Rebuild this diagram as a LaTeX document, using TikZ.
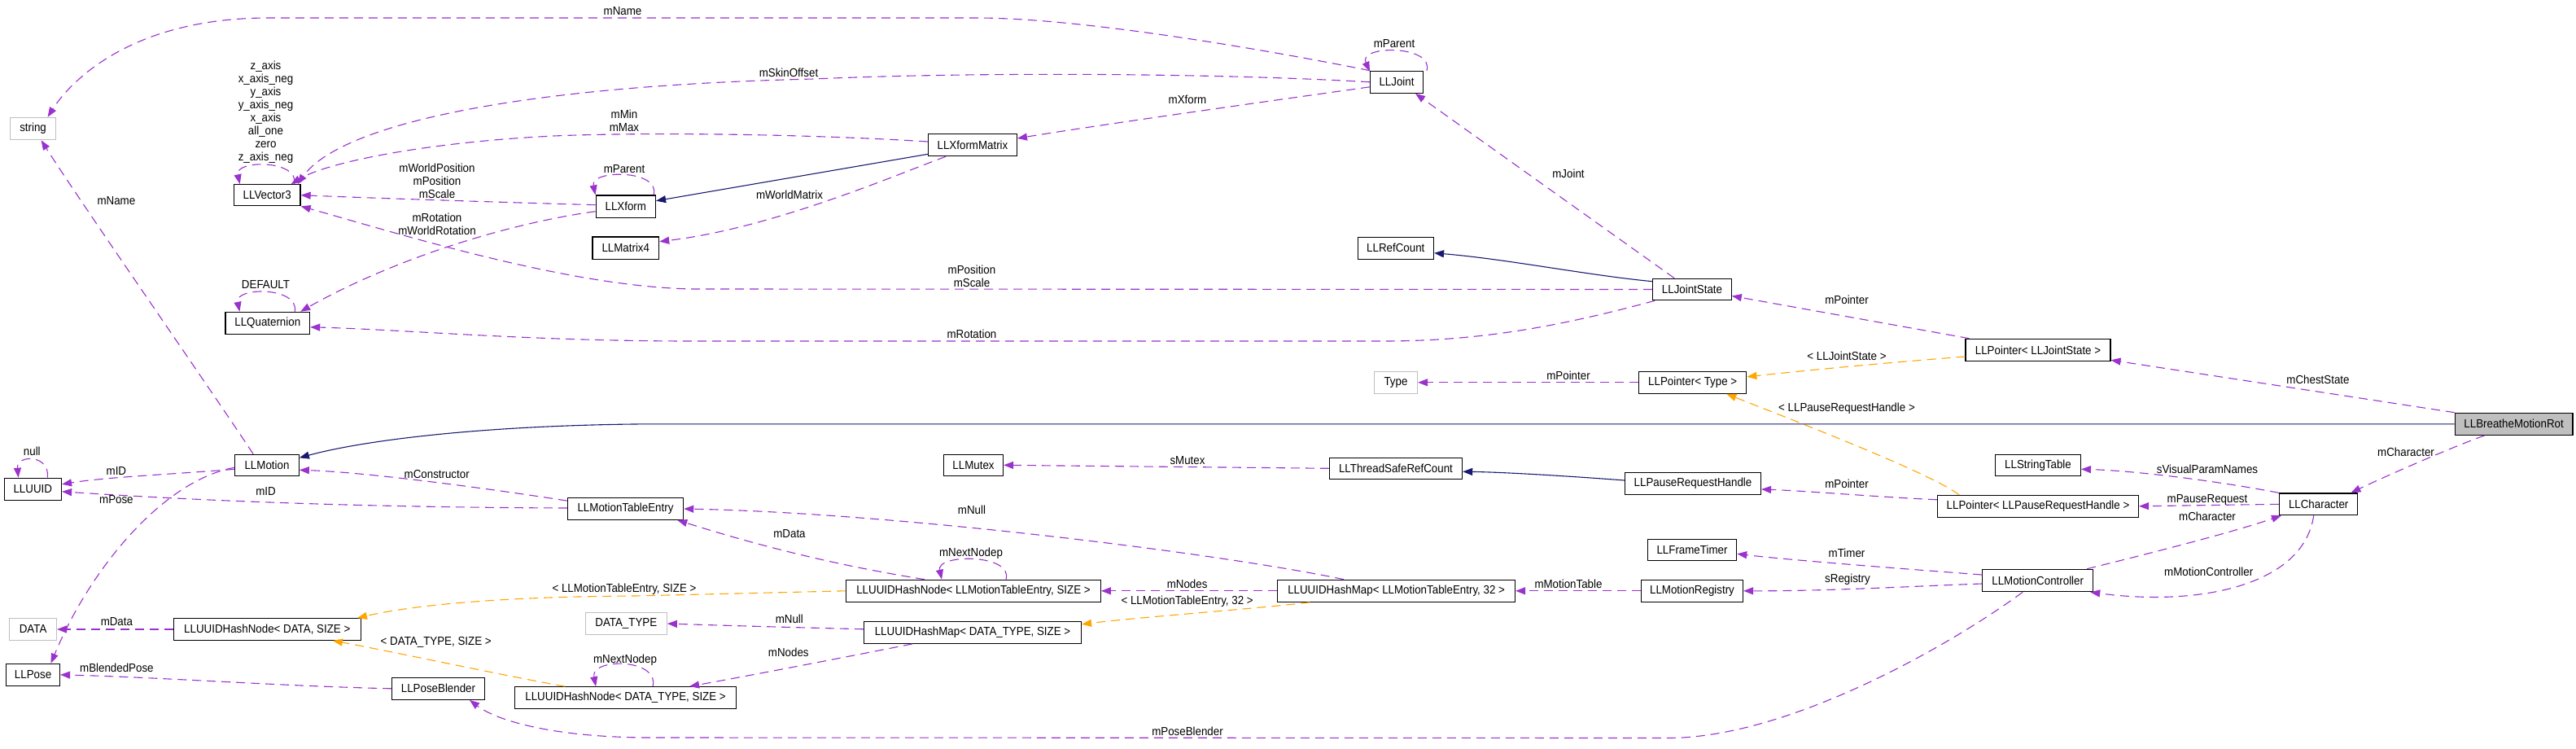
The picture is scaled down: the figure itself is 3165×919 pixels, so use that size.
\documentclass[tikz,border=0pt]{standalone}
\usepackage{fontspec}
\newfontfamily\dfont{Liberation Sans}[FakeStretch=0.92]
\usetikzlibrary{arrows.meta,calc}
\definecolor{usec}{HTML}{9A32CD}
\definecolor{inhc}{HTML}{191970}
\definecolor{tplc}{HTML}{FFA500}
\definecolor{extc}{HTML}{BFBFBF}
\tikzset{
  cls/.style={draw=black, line width=1.2pt, inner sep=0pt, font=\dfont\fontsize{14.5}{16}\selectfont},
  extcls/.style={cls, draw=extc},
  lbl/.style={inner sep=0pt, align=center, font=\dfont\fontsize{14.5}{16}\selectfont},
  use/.style={draw=usec, line width=1.1pt, dash pattern=on 11pt off 7pt, -{Triangle[length=12pt,width=9pt]}},
  tpl/.style={draw=tplc, line width=1.1pt, dash pattern=on 11pt off 7pt, -{Triangle[length=12pt,width=9pt]}},
  inh/.style={draw=inhc, line width=1.1pt, -{Triangle[length=12pt,width=9pt]}}
}
\begin{document}
\begin{tikzpicture}[x=1pt,y=-1pt]
\useasboundingbox (0,0) rectangle (3165,919);
\fill[white] (0,0) rectangle (3165,919);
% nodes
\node[extcls, minimum width=55.6pt, minimum height=27.3pt] (str) at (40.6,158) {string};
\node[cls, minimum width=81.7pt, minimum height=26pt] (V3) at (328.2,239.7) {LLVector3};
\node[cls, minimum width=73.4pt, minimum height=27.3pt] (XF) at (768.8,253.7) {LLXform};
\node[cls, minimum width=81.6pt, minimum height=27.3pt] (M4) at (768.8,304.7) {LLMatrix4};
\node[cls, minimum width=108.7pt, minimum height=27.4pt] (XM) at (1195,178) {LLXformMatrix};
\node[cls, minimum width=64.8pt, minimum height=27pt] (J) at (1716,100.8) {LLJoint};
\node[cls, minimum width=93.3pt, minimum height=27pt] (RC) at (1714.8,304.8) {LLRefCount};
\node[cls, minimum width=103.6pt, minimum height=27pt] (Q) at (328.8,396.8) {LLQuaternion};
\node[cls, minimum width=78.5pt, minimum height=26pt] (M) at (328,571.3) {LLMotion};
\node[cls, minimum width=70.4pt, minimum height=27pt] (U) at (40.3,600.8) {LLUUID};
\node[cls, minimum width=142.3pt, minimum height=26.6pt] (MTE) at (768.5,625) {LLMotionTableEntry};
\node[cls, minimum width=73pt, minimum height=26pt] (MX) at (1196,571.3) {LLMutex};
\node[cls, minimum width=96.4pt, minimum height=26.4pt] (JS) at (2079,355.5) {LLJointState};
\node[extcls, minimum width=53pt, minimum height=27pt] (T) at (1715,469.8) {Type};
\node[cls, minimum width=132.1pt, minimum height=27pt] (PT) at (2079.7,469.8) {LLPointer< Type >};
\node[cls, minimum width=163.2pt, minimum height=26pt] (TS) at (1715,575.3) {LLThreadSafeRefCount};
\node[cls, minimum width=166.9pt, minimum height=26.6pt] (PRH) at (2080,594) {LLPauseRequestHandle};
\node[cls, minimum width=177.9pt, minimum height=27.4pt] (PJS) at (2504,430) {LLPointer< LLJointState >};
\node[cls, fill=extc, minimum width=144.7pt, minimum height=27pt] (BMR) at (3088.6,520.8) {LLBreatheMotionRot};
\node[cls, minimum width=104.7pt, minimum height=26pt] (ST) at (2504,571.3) {LLStringTable};
\node[cls, minimum width=96.3pt, minimum height=26.7pt] (CH) at (2848.7,619.3) {LLCharacter};
\node[cls, minimum width=246.9pt, minimum height=27pt] (PPRH) at (2504,621.8) {LLPointer< LLPauseRequestHandle >};
\node[cls, minimum width=135.8pt, minimum height=27.4pt] (MC) at (2503.7,713) {LLMotionController};
\node[extcls, minimum width=57.7pt, minimum height=26.6pt] (D) at (40.6,773) {DATA};
\node[cls, minimum width=230.1pt, minimum height=26.6pt] (HND) at (328.3,773) {LLUUIDHashNode< DATA, SIZE >};
\node[cls, minimum width=65.8pt, minimum height=27pt] (P) at (40.6,828.8) {LLPose};
\node[cls, minimum width=113.8pt, minimum height=27pt] (PB) at (538.5,845.8) {LLPoseBlender};
\node[extcls, minimum width=100pt, minimum height=26.6pt] (DT) at (769.3,766) {DATA\_TYPE};
\node[cls, minimum width=271.8pt, minimum height=26.6pt] (HNDT) at (768.6,857) {LLUUIDHashNode< DATA\_TYPE, SIZE >};
\node[cls, minimum width=312.7pt, minimum height=27pt] (HNMTE) at (1196,725.8) {LLUUIDHashNode< LLMotionTableEntry, SIZE >};
\node[cls, minimum width=266.9pt, minimum height=27pt] (HMDT) at (1195,776.8) {LLUUIDHashMap< DATA\_TYPE, SIZE >};
\node[cls, minimum width=291.8pt, minimum height=27pt] (HMMTE) at (1715.6,725.8) {LLUUIDHashMap< LLMotionTableEntry, 32 >};
\node[cls, minimum width=109.2pt, minimum height=26pt] (FT) at (2079,675.3) {LLFrameTimer};
\node[cls, minimum width=125pt, minimum height=27pt] (MR) at (2079,725.8) {LLMotionRegistry};

% edges
\draw[use] (J.north west) .. controls (1560,62) and (1330,22) .. (1200,22) -- (330,22) .. controls (150,22) and (80,110) .. ($(str.north)+(18,0)$);
\draw[use] (J.west) .. controls (1500,90) and (1200,88) .. (1000,97) .. controls (650,105) and (420,150) .. ($(V3.north east)+(-4,0)$);
\draw[use] ($(J.west)+(0,6)$) .. controls (1560,124) and (1340,155) .. ($(XM.east)+(0,-8)$);
\draw[use] ($(J.north east)+(4,0)$) .. controls (1762,55) and (1668,55) .. ($(J.north west)+(0,1)$);
\draw[use] ($(XM.west)+(0,-4)$) .. controls (1000,165) and (800,162) .. (680,167) .. controls (520,175) and (400,200) .. ($(V3.north east)+(-12,0)$);
\draw[inh] ($(XM.south west)+(0,-3)$) -- ($(XF.east)+(0,-7)$);
\draw[use] ($(XM.south west)+(22,0)$) .. controls (1100,215) and (950,280) .. ($(M4.east)+(0,-8)$);
\draw[use] ($(XF.north east)+(-3,0)$) .. controls (812,208) and (725,208) .. (XF.north west);
\draw[use] ($(XF.west)+(0,-2)$) .. controls (600,248) and (450,243) .. (V3.east);
\draw[use] ($(XF.west)+(0,6)$) .. controls (620,275) and (480,320) .. ($(Q.north east)+(-12,0)$);
\draw[use] ($(V3.north east)+(-8,0)$) .. controls (368,196) and (288,196) .. ($(V3.north west)+(8,0)$);
\draw[use] ($(Q.north east)+(-19,0)$) .. controls (368,352) and (288,352) .. ($(Q.north west)+(18,0)$);
\draw[use] (JS.west) -- (850,355) .. controls (700,352) and (500,290) .. (V3.south east);
\draw[use] ($(JS.south west)+(3,0)$) .. controls (1920,400) and (1820,419) .. (1700,419) -- (850,419) .. controls (650,419) and (500,405) .. ($(Q.east)+(0,5)$);
\draw[inh] ($(JS.north west)+(0,4)$) .. controls (1950,338) and (1850,318) .. ($(RC.east)+(0,6)$);
\draw[use] ($(JS.north west)+(27,0)$) -- ($(J.south east)+(-10,0)$);
\draw[use] ($(PJS.north west)+(5,0)$) -- ($(JS.east)+(0,8)$);
\draw[tpl] ($(PJS.west)+(0,8)$) .. controls (2300,447) and (2220,455) .. ($(PT.east)+(0,-7)$);
\draw[use] (PT.west) -- (T.east);
\draw[tpl] ($(PPRH.north west)+(27,0)$) .. controls (2370,580) and (2200,515) .. ($(PT.south east)+(-25,0)$);
\draw[use] (BMR.north west) -- ($(PJS.south east)+(0,-2)$);
\draw[inh] (BMR.west) -- (800,520.8) .. controls (600,522) and (450,540) .. ($(M.east)+(0,-9)$);
\draw[use] ($(BMR.south west)+(37,0)$) .. controls (3010,550) and (2920,590) .. ($(CH.north east)+(-9,0)$);
\draw[use] (CH.north west) .. controls (2720,590) and (2620,578) .. ($(ST.east)+(0,5)$);
\draw[use] (CH.west) -- (PPRH.east);
\draw[use] ($(MC.north east)+(-8,0)$) .. controls (2620,685) and (2740,655) .. ($(CH.south west)+(3,0)$);
\draw[use] ($(CH.south)+(-6,0)$) .. controls (2830,720) and (2700,745) .. ($(MC.south east)+(-4,0)$);
\draw[use] ($(MC.west)+(0,-7)$) .. controls (2330,698) and (2200,688) .. ($(FT.east)+(0,5)$);
\draw[use] ($(MC.west)+(0,4)$) .. controls (2350,720) and (2250,726) .. (MR.east);
\draw[use] (MR.west) -- (HMMTE.east);
\draw[use] ($(MC.south west)+(50,0)$) .. controls (2400,790) and (2200,906) .. (2050,906.5) -- (800,906) .. controls (680,906) and (610,885) .. ($(PB.south east)+(-19,0)$);
\draw[inh] ($(PRH.west)+(0,-4)$) .. controls (1930,585) and (1850,580) .. ($(TS.east)+(0,4)$);
\draw[use] (TS.west) -- (MX.east);
\draw[use] ($(PPRH.west)+(0,-8)$) .. controls (2300,610) and (2220,603) .. ($(PRH.east)+(0,7)$);
\draw[use] ($(M.north west)+(23,0)$) .. controls (260,480) and (100,250) .. ($(str.south)+(10,0)$);
\draw[use] ($(M.west)+(0,5)$) .. controls (220,582) and (130,586) .. ($(U.east)+(0,-6)$);
\draw[use] ($(U.north)+(18,0)$) .. controls (62,558) and (20,558) .. ($(U.north west)+(18,0)$);
\draw[use] ($(M.west)+(0,3)$) .. controls (200,590) and (110,700) .. ($(P.north)+(22,0)$);
\draw[use] ($(MTE.west)+(0,-1)$) .. controls (400,623) and (200,612) .. ($(U.east)+(0,3)$);
\draw[use] ($(MTE.north west)+(0,4)$) .. controls (600,600) and (450,580) .. ($(M.east)+(0,6)$);
\draw[use] ($(HNMTE.north west)+(97,0)$) .. controls (1000,690) and (900,660) .. ($(MTE.south east)+(-8,0)$);
\draw[use] ($(HNMTE.north west)+(197,0)$) .. controls (1245,680) and (1150,680) .. ($(HNMTE.north west)+(118,0)$);
\draw[tpl] (HNMTE.west) -- (780,732) .. controls (600,733) and (500,745) .. ($(HND.north east)+(-5,0)$);
\draw[use] (HMMTE.west) -- (HNMTE.east);
\draw[use] ($(HMMTE.north west)+(82,0)$) .. controls (1500,680) and (1100,630) .. (MTE.east);
\draw[tpl] ($(HMMTE.south west)+(40,0)$) .. controls (1540,748) and (1400,758) .. ($(HMDT.east)+(0,-10)$);
\draw[use] ($(HMDT.west)+(0,-4)$) .. controls (950,770) and (880,768) .. (DT.east);
\draw[use] ($(HMDT.south west)+(60,0)$) .. controls (1050,805) and (920,830) .. ($(HNDT.north east)+(-58,0)$);
\draw[use] ($(HNDT.north west)+(170,0)$) .. controls (810,808) and (725,808) .. ($(HNDT.north west)+(100,0)$);
\draw[tpl] ($(HNDT.north west)+(62,0)$) .. controls (620,830) and (480,800) .. ($(HND.south east)+(-35,0)$);
\draw[use] (HND.west) -- (D.east);
\draw[use] (PB.west) .. controls (350,843) and (200,832) .. (P.east);

% labels
\node[lbl] (l1) at (765,14) {mName};
\node[lbl] (l2) at (969,89) {mSkinOffset};
\node[lbl] (l3) at (1459,122) {mXform};
\node[lbl] (l4) at (1713,54) {mParent};
\node[lbl] (l5) at (767,148) {mMin\\mMax};
\node[lbl] (l6) at (970,239) {mWorldMatrix};
\node[lbl] (l7) at (767,208) {mParent};
\node[lbl] (l8) at (537,222) {mWorldPosition\\mPosition\\mScale};
\node[lbl] (l9) at (537,275) {mRotation\\mWorldRotation};
\node[lbl] (l10) at (326.5,138) {z\_axis\\x\_axis\_neg\\y\_axis\\y\_axis\_neg\\x\_axis\\all\_one\\zero\\z\_axis\_neg};
\node[lbl] (l11) at (326.5,350) {DEFAULT};
\node[lbl] (l12) at (1194,339) {mPosition\\mScale};
\node[lbl] (l13) at (1194,410.7) {mRotation};
\node[lbl] (l14) at (1927,213) {mJoint};
\node[lbl] (l15) at (2269,368) {mPointer};
\node[lbl] (l16) at (2269,437.7) {< LLJointState >};
\node[lbl] (l17) at (1927,461.7) {mPointer};
\node[lbl] (l18) at (2269,501.7) {< LLPauseRequestHandle >};
\node[lbl] (l19) at (2848,466) {mChestState};
\node[lbl] (l20) at (2956,555) {mCharacter};
\node[lbl] (l21) at (2712,576) {sVisualParamNames};
\node[lbl] (l22) at (2712,614) {mPauseRequest};
\node[lbl] (l23) at (2712,634.7) {mCharacter};
\node[lbl] (l24) at (2713.7,702.7) {mMotionController};
\node[lbl] (l25) at (2269,679) {mTimer};
\node[lbl] (l26) at (2270,711.7) {sRegistry};
\node[lbl] (l27) at (1927,717) {mMotionTable};
\node[lbl] (l28) at (1459,898) {mPoseBlender};
\node[lbl] (l29) at (1459,566) {sMutex};
\node[lbl] (l30) at (2269,594) {mPointer};
\node[lbl] (l31) at (142.9,246.7) {mName};
\node[lbl] (l32) at (142.9,578.3) {mID};
\node[lbl] (l33) at (39.3,554.7) {null};
\node[lbl] (l34) at (142.9,614) {mPose};
\node[lbl] (l35) at (326.5,603.3) {mID};
\node[lbl] (l36) at (536.7,582.7) {mConstructor};
\node[lbl] (l37) at (970,656) {mData};
\node[lbl] (l38) at (1193,680) {mNextNodep};
\node[lbl] (l39) at (767,723.3) {< LLMotionTableEntry, SIZE >};
\node[lbl] (l40) at (1458.6,717.7) {mNodes};
\node[lbl] (l41) at (1194,626.7) {mNull};
\node[lbl] (l42) at (1458.6,739) {< LLMotionTableEntry, 32 >};
\node[lbl] (l43) at (969.8,760) {mNull};
\node[lbl] (l44) at (968.8,801.7) {mNodes};
\node[lbl] (l45) at (768,810.7) {mNextNodep};
\node[lbl] (l46) at (535.7,789.3) {< DATA\_TYPE, SIZE >};
\node[lbl] (l47) at (143.4,764) {mData};
\node[lbl] (l48) at (143.4,820) {mBlendedPose};
\end{tikzpicture}
\end{document}
